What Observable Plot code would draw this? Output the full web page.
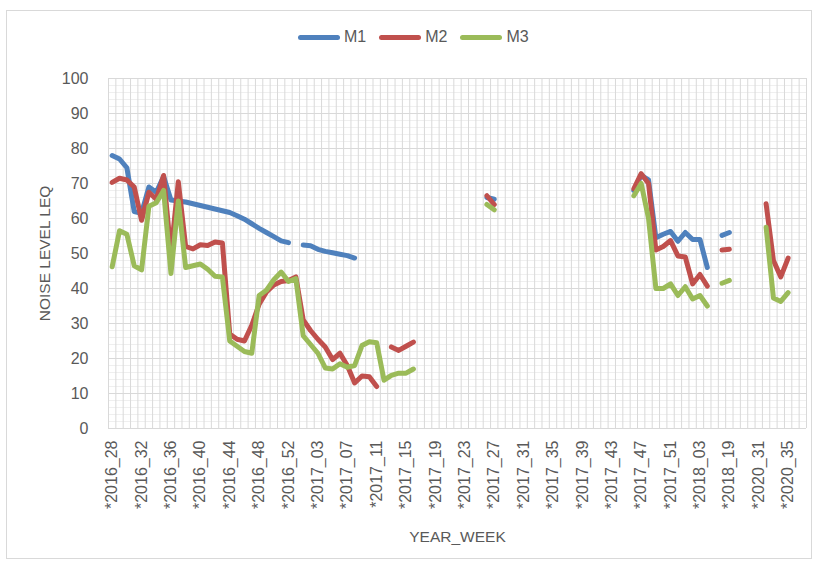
<!DOCTYPE html>
<html>
<head>
<meta charset="utf-8">
<script src="https://cdn.jsdelivr.net/npm/d3@7"></script>
<script src="https://cdn.jsdelivr.net/npm/@observablehq/plot@0.6"></script>
<style>
  body { margin: 0; background: #fff; font-family: "Liberation Sans", Arial, sans-serif; }
  #wrap { position: relative; width: 817px; height: 568px; overflow: hidden; }
  #border { position: absolute; left: 6px; top: 10px; width: 806px; height: 549px; border: 1px solid #d9d9d9; box-sizing: border-box; }
  #legend { position: absolute; top: 28px; left: 298px; display: flex; align-items: center; font-size: 16px; color: #595959; }
  #legend .item { display: flex; align-items: center; margin-right: 13px; }
  #legend .sw { width: 42px; height: 5px; border-radius: 3px; margin-right: 4px; }
  #chart { position: absolute; left: 0; top: 0; }
</style>
</head>
<body>
<div id="wrap">
  <div id="border"></div>
  <div id="chart"></div>
  <div id="legend"></div>
</div>
<script>
// Categories (YEAR_WEEK), 95 in total
const categories = [
  "2016_28","2016_29","2016_30","2016_31","2016_32","2016_33","2016_34","2016_35","2016_36","2016_37",
  "2016_38","2016_39","2016_40","2016_41","2016_42","2016_43","2016_44","2016_45","2016_46","2016_47",
  "2016_48","2016_49","2016_50","2016_51","2016_52","2016_53","2017_01","2017_02","2017_03","2017_04",
  "2017_05","2017_06","2017_07","2017_08","2017_09","2017_10","2017_11","2017_12","2017_13","2017_14",
  "2017_15","2017_16","2017_17","2017_18","2017_19","2017_20","2017_21","2017_22","2017_23","2017_24",
  "2017_25","2017_26","2017_27","2017_28","2017_29","2017_30","2017_31","2017_32","2017_33","2017_34",
  "2017_35","2017_36","2017_37","2017_38","2017_39","2017_40","2017_41","2017_42","2017_43","2017_44",
  "2017_45","2017_46","2017_47","2017_48","2017_49","2017_50","2017_51","2017_52","2018_01","2018_02",
  "2018_03","2018_04","2018_05","2018_18","2018_19","2018_20","2018_21","2020_30","2020_31","2020_32",
  "2020_33","2020_34","2020_35","2020_36","2020_37"
];

// Tick labels shown on the x axis
const xTickLabels = [
  "2016_28","2016_32","2016_36","2016_40","2016_44","2016_48","2016_52","2017_03","2017_07","2017_11",
  "2017_15","2017_19","2017_23","2017_27","2017_31","2017_35","2017_39","2017_43","2017_47","2017_51",
  "2018_03","2018_19","2020_31","2020_35"
];
const yTicks = [0,10,20,30,40,50,60,70,80,90,100];
const yMinorTicks = [2,4,6,8,12,14,16,18,22,24,26,28,32,34,36,38,42,44,46,48,52,54,56,58,62,64,66,68,72,74,76,78,82,84,86,88,92,94,96,98];

const seriesNames = ["M1","M2","M3"];
const seriesColors = ["#4F81BD","#C0504D","#9BBB59"];

// M1 values (null = no measurement)
const m1 = [
  78, 77, 74.5, 62, 61.5, 69, 67.5, 72, 65.3, 65,
  64.7, 64.2, 63.7, 63.2, 62.7, 62.2, 61.7, 60.8, 59.8, 58.5,
  57.2, 56, 54.8, 53.6, 53.1, null, 52.4, 52.2, 51.2, 50.6,
  50.2, 49.8, 49.4, 48.7, null, null, null, null, null, null,
  null, null, null, null, null, null, null, null, null, null,
  null, 66, 65.5, null, null, null, null, null, null, null,
  null, null, null, null, null, null, null, null, null, null,
  null, 68, 72.3, 71, 54.5, 55.5, 56.3, 53.5, 56, 54,
  54, 46, null, 55.2, 56, null, null, null, null, null,
  null, null, null, null, null
];

// M2 values
const m2 = [
  70.3, 71.5, 71, 69, 59.5, 67.5, 65.5, 72.3, 50, 70.5,
  52, 51.3, 52.5, 52.3, 53.3, 53, 27, 25.5, 25, 29.5,
  35.5, 39, 41, 42, 42.3, 43.3, 31, 28, 25.5, 23.3,
  19.7, 21.5, 18, 13, 15, 14.8, 12, null, 23.3, 22.3,
  23.5, 24.7, null, null, null, null, null, null, null, null,
  null, 66.5, 64, null, null, null, null, null, null, null,
  null, null, null, null, null, null, null, null, null, null,
  null, 68.5, 72.8, 70, 51, 52, 53.7, 49.3, 49, 41.3,
  44, 40.7, null, 51, 51.2, null, null, null, null, 64.2,
  48, 43.3, 48.7, null, null
];

// M3 values
const m3 = [
  46.2, 56.5, 55.5, 46.5, 45.3, 63.5, 64.5, 68, 44.3, 65,
  46, 46.5, 47, 45.5, 43.5, 43.3, 25, 23.5, 22, 21.5,
  38, 39.5, 42.5, 44.7, 42, 42.8, 26.5, 24, 21.5, 17.3,
  17, 18.5, 17.5, 18, 23.7, 24.8, 24.5, 13.8, 15.2, 15.8,
  15.8, 17, null, null, null, null, null, null, null, null,
  null, 64, 62.5, null, null, null, null, null, null, null,
  null, null, null, null, null, null, null, null, null, null,
  null, 66.5, 70, 60, 40, 40, 41.3, 38, 40.5, 37,
  38, 35, null, 41.5, 42.3, null, null, null, null, 57.5,
  37.3, 36.3, 38.8, null, null
];

const rows = categories.map((c, i) => ({
  c,
  m1: m1[i] == null ? NaN : m1[i],
  m2: m2[i] == null ? NaN : m2[i],
  m3: m3[i] == null ? NaN : m3[i]
}));

const W = 817, H = 568, ML = 108, MR = 11, MT = 78, MB = 140;
const step = (W - ML - MR) / categories.length;
const textColor = "#595959";
const font = "'Liberation Sans', Arial, sans-serif";

const lineOpts = {strokeWidth: 5, strokeLinecap: "round", strokeLinejoin: "round"};

const chart = Plot.plot({
  width: W,
  height: H,
  marginLeft: ML,
  marginRight: MR,
  marginTop: MT,
  marginBottom: MB,
  style: {fontFamily: font, fontSize: "16px", color: textColor, background: "transparent", overflow: "visible"},
  x: {
    type: "point", domain: categories, padding: 0.5,
    ticks: xTickLabels, tickFormat: d => "*" + d, tickRotate: -90,
    tickSize: 0, tickPadding: 12, label: null
  },
  y: {domain: [0, 100], ticks: yTicks, tickSize: 0, tickPadding: 20, label: null},
  marks: [
    Plot.ruleY(yMinorTicks, {stroke: "#efefef", strokeWidth: 1}),
    Plot.ruleX(categories, {dx: -step / 2, stroke: "#d9d9d9", strokeWidth: 1}),
    Plot.ruleX([categories[categories.length - 1]], {dx: step / 2, stroke: "#d9d9d9", strokeWidth: 1}),
    Plot.ruleY(yTicks, {stroke: "#d9d9d9", strokeWidth: 1}),
    Plot.line(rows, {x: "c", y: "m1", stroke: seriesColors[0], ...lineOpts}),
    Plot.line(rows, {x: "c", y: "m2", stroke: seriesColors[1], ...lineOpts}),
    Plot.line(rows, {x: "c", y: "m3", stroke: seriesColors[2], ...lineOpts}),
    Plot.text(["NOISE LEVEL LEQ"], {frameAnchor: "left", textAnchor: "middle", lineAnchor: "middle", dx: -63, rotate: -90, fontSize: 15.5, fill: textColor}),
    Plot.text(["YEAR_WEEK"], {frameAnchor: "bottom", textAnchor: "middle", lineAnchor: "middle", dy: 109, fontSize: 15.5, fill: textColor})
  ]
});
document.getElementById("chart").appendChild(chart);

const legend = document.getElementById("legend");
seriesNames.forEach((name, i) => {
  const item = document.createElement("div");
  item.className = "item";
  const sw = document.createElement("div");
  sw.className = "sw";
  sw.style.background = seriesColors[i];
  const label = document.createElement("span");
  label.textContent = name;
  item.appendChild(sw);
  item.appendChild(label);
  legend.appendChild(item);
});
</script>
</body>
</html>
